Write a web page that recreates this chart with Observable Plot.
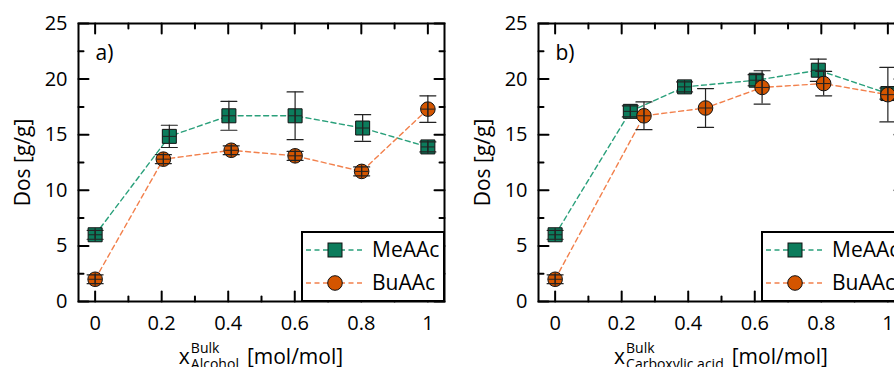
<!DOCTYPE html>
<html><head><meta charset="utf-8">
<script src="https://cdn.jsdelivr.net/npm/d3@7"></script>
<script src="https://cdn.jsdelivr.net/npm/@observablehq/plot@0.6"></script>
<style>
html,body{margin:0;padding:0;background:#fff;overflow:hidden;}
#wrap{position:relative;width:894px;height:367px;overflow:hidden;font-family:"Open Sans",sans-serif;}
.panel{position:absolute;top:0;width:460px;height:367px;}
.panel svg{max-width:none !important;display:block;}
</style></head><body><div id="wrap"></div>
<script>
// ---- data ----
const seriesNames = ["MeAAc", "BuAAc"];
const xTickValues = [0, 0.2, 0.4, 0.6, 0.8, 1];
const xTickLabels = ["0", "0.2", "0.4", "0.6", "0.8", "1"];
const xMinorTicks = [0.1, 0.3, 0.5, 0.7, 0.9];
const yTickValues = [0, 5, 10, 15, 20, 25];
const yMinorTicks = [2.5, 7.5, 12.5, 17.5, 22.5];
const panelLabels = ["a)", "b)"];
const xTitleSubs = ["Alcohol", "Carboxylic acid"];

// Panel a (x = alcohol)
const aMeX = [0, 0.223, 0.402, 0.601, 0.804, 1.0];
const aMeY = [6.0, 14.85, 16.7, 16.7, 15.6, 13.9];
const aMeErr = [0.4, 1.0, 1.3, 2.15, 1.2, 0.45];
const aBuX = [0, 0.205, 0.409, 0.601, 0.801, 1.0];
const aBuY = [2.0, 12.8, 13.6, 13.1, 11.7, 17.3];
const aBuErr = [0.4, 0.4, 0.4, 0.4, 0.4, 1.2];

// Panel b (x = carboxylic acid)
const bMeX = [0, 0.226, 0.389, 0.604, 0.791, 1.0];
const bMeY = [6.0, 17.1, 19.3, 19.9, 20.8, 18.7];
const bMeErr = [0.4, 0.5, 0.45, 0.5, 1.0, 0.5];
const bBuX = [0, 0.267, 0.452, 0.622, 0.807, 1.0];
const bBuY = [2.0, 16.7, 17.4, 19.25, 19.6, 18.6];
const bBuErr = [0.4, 1.25, 1.75, 1.5, 1.1, 2.45];

const lineColors = {MeAAc: "#2aa07b", BuAAc: "#f2804c"};
const fillColors = {MeAAc: "#0c7c5c", BuAAc: "#d45500"};

function rowsOf(name, xs, ys, es) {
  return xs.map((x, i) => ({name, x, y: ys[i], e: es[i]}));
}

const lineShape = {draw(ctx, l) { ctx.moveTo(0, 0); ctx.lineTo(0, -l); }};

function makePanel(label, rows) {
  const me = rows.filter(d => d.name === "MeAAc");
  const bu = rows.filter(d => d.name === "BuAAc");
  const errMarks = (data) => [
    Plot.ruleX(data, {x: "x", y1: d => d.y - d.e, y2: d => d.y + d.e, stroke: "#222", strokeWidth: 1.2}),
    Plot.vector(data, {x: "x", y: d => d.y + d.e, length: 16, rotate: 90, anchor: "middle", shape: lineShape, stroke: "#222", strokeWidth: 1.2}),
    Plot.vector(data, {x: "x", y: d => d.y - d.e, length: 16, rotate: 90, anchor: "middle", shape: lineShape, stroke: "#222", strokeWidth: 1.2}),
    Plot.vector(data, {x: "x", y: "y", length: 13, rotate: 0, anchor: "middle", shape: lineShape, stroke: "#222", strokeWidth: 1}),
    Plot.vector(data, {x: "x", y: "y", length: 13, rotate: 90, anchor: "middle", shape: lineShape, stroke: "#222", strokeWidth: 1})
  ];
  return Plot.plot({
    width: 460, height: 367,
    marginLeft: 78, marginRight: 16, marginTop: 23, marginBottom: 66,
    x: {domain: [-0.05, 1.05]},
    y: {domain: [0, 25]},
    style: {fontFamily: "Open Sans", fontSize: "20px", color: "#000", background: "transparent", overflow: "visible"},
    marks: [
      Plot.line(rows, {x: "x", y: "y", z: "name", stroke: d => lineColors[d.name], strokeDasharray: "5,3.5", strokeWidth: 1.4}),
      Plot.dot(me, {x: "x", y: "y", symbol: "square", r: 7.9, fill: fillColors.MeAAc, stroke: "#111", strokeWidth: 1}),
      ...errMarks(me),
      Plot.dot(bu, {x: "x", y: "y", symbol: "circle", r: 7.3, fill: fillColors.BuAAc, stroke: "#111", strokeWidth: 1}),
      ...errMarks(bu),
      // inward ticks
      Plot.vector(xTickValues, {x: d => d, frameAnchor: "bottom", length: 10, rotate: 0, anchor: "start", shape: lineShape, stroke: "#000", strokeWidth: 2}),
      Plot.vector(xMinorTicks, {x: d => d, frameAnchor: "bottom", length: 5, rotate: 0, anchor: "start", shape: lineShape, stroke: "#000", strokeWidth: 2}),
      Plot.vector(xTickValues, {x: d => d, frameAnchor: "top", length: 10, rotate: 180, anchor: "start", shape: lineShape, stroke: "#000", strokeWidth: 2}),
      Plot.vector(xMinorTicks, {x: d => d, frameAnchor: "top", length: 5, rotate: 180, anchor: "start", shape: lineShape, stroke: "#000", strokeWidth: 2}),
      Plot.vector(yTickValues, {y: d => d, frameAnchor: "left", length: 10, rotate: 90, anchor: "start", shape: lineShape, stroke: "#000", strokeWidth: 2}),
      Plot.vector(yMinorTicks, {y: d => d, frameAnchor: "left", length: 5, rotate: 90, anchor: "start", shape: lineShape, stroke: "#000", strokeWidth: 2}),
      Plot.vector(yTickValues, {y: d => d, frameAnchor: "right", length: 10, rotate: -90, anchor: "start", shape: lineShape, stroke: "#000", strokeWidth: 2}),
      Plot.vector(yMinorTicks, {y: d => d, frameAnchor: "right", length: 5, rotate: -90, anchor: "start", shape: lineShape, stroke: "#000", strokeWidth: 2}),
      Plot.axisX({ticks: xTickValues, tickFormat: d => xTickLabels[xTickValues.indexOf(d)], tickSize: 0, tickPadding: 14, label: null, fontSize: 20}),
      Plot.axisY({ticks: yTickValues, tickSize: 0, tickPadding: 11, label: null, fontSize: 20}),
      Plot.text(["Dos [g/g]"], {frameAnchor: "left", rotate: -90, dx: -55, textAnchor: "middle", lineAnchor: "middle", fontSize: 21}),
      Plot.text([label], {frameAnchor: "top-left", dx: 17, dy: 30, textAnchor: "start", lineAnchor: "middle", fontSize: 21}),
      Plot.frame({stroke: "#000", strokeWidth: 2})
    ]
  });
}

function addXTitle(svg, sub) {
  const cx = (78 + 444) / 2;
  const g = d3.select(svg).append("g").attr("font-family", "Open Sans").attr("fill", "#000").attr("text-anchor", "start");
  const t1 = g.append("text").attr("font-size", 21).attr("y", 364).text("x");
  const tSup = g.append("text").attr("font-size", 14).attr("y", 352.5).text("Bulk");
  const tSub = g.append("text").attr("font-size", 14).attr("y", 368.5).text(sub);
  const t2 = g.append("text").attr("font-size", 21).attr("y", 364).text("[mol/mol]");
  const w1 = t1.node().getComputedTextLength();
  const ws = Math.max(tSup.node().getComputedTextLength(), tSub.node().getComputedTextLength());
  const w2 = t2.node().getComputedTextLength();
  const gap = 8;
  const total = w1 + 1 + ws + gap + w2;
  const x0 = cx - total / 2;
  t1.attr("x", x0);
  tSup.attr("x", x0 + w1 + 1);
  tSub.attr("x", x0 + w1 + 1);
  t2.attr("x", x0 + w1 + 1 + ws + gap);
}

function addLegend(svg) {
  const g = d3.select(svg).append("g").attr("font-family", "Open Sans").attr("text-anchor", "start");
  g.append("rect").attr("x", 302).attr("y", 232).attr("width", 142).attr("height", 69)
    .attr("fill", "#fff").attr("stroke", "#000").attr("stroke-width", 2);
  seriesNames.forEach((name, i) => {
    const cy = 250 + i * 33;
    g.append("line").attr("x1", 306).attr("x2", 363).attr("y1", cy).attr("y2", cy)
      .attr("stroke", lineColors[name]).attr("stroke-width", 1.4).attr("stroke-dasharray", "5,3.5");
    if (name === "MeAAc") {
      g.append("rect").attr("x", 335 - 7).attr("y", cy - 7).attr("width", 14).attr("height", 14)
        .attr("fill", fillColors[name]).attr("stroke", "#111").attr("stroke-width", 1);
    } else {
      g.append("circle").attr("cx", 335).attr("cy", cy).attr("r", 7.3)
        .attr("fill", fillColors[name]).attr("stroke", "#111").attr("stroke-width", 1);
    }
    g.append("text").attr("x", 372).attr("y", cy).attr("dy", "0.35em").attr("font-size", 21).attr("fill", "#000").text(name);
  });
}

const wrap = document.getElementById("wrap");
const panelsData = [
  rowsOf("MeAAc", aMeX, aMeY, aMeErr).concat(rowsOf("BuAAc", aBuX, aBuY, aBuErr)),
  rowsOf("MeAAc", bMeX, bMeY, bMeErr).concat(rowsOf("BuAAc", bBuX, bBuY, bBuErr))
];
const offsets = [0, 459.6];
panelsData.forEach((rows, k) => {
  const div = document.createElement("div");
  div.className = "panel";
  div.style.left = offsets[k] + "px";
  const svg = makePanel(panelLabels[k], rows);
  svg.style.maxWidth = "none";
  div.appendChild(svg);
  wrap.appendChild(div);
  addXTitle(svg, xTitleSubs[k]);
  addLegend(svg);
});
</script></body></html>
